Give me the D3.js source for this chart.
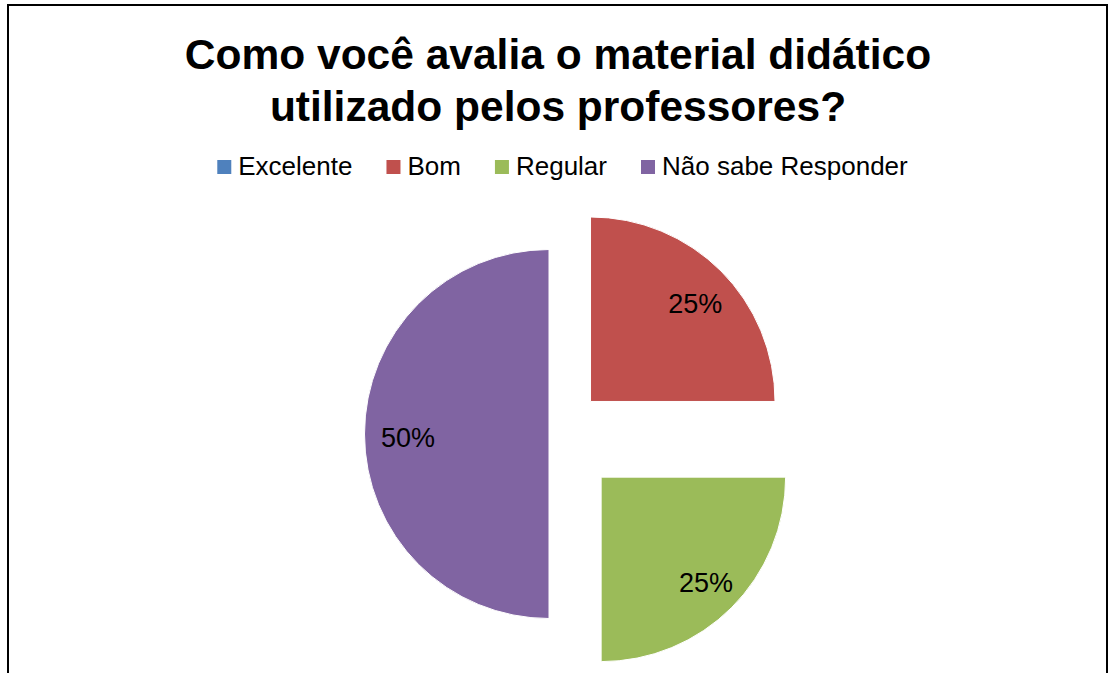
<!DOCTYPE html>
<html>
<head>
<meta charset="utf-8">
<script src="https://cdn.jsdelivr.net/npm/d3@7"></script>
<style>
  html, body { margin: 0; padding: 0; background: #fff; }
  svg { display: block; }
  text { font-family: "Liberation Sans", Arial, sans-serif; }
</style>
</head>
<body>
<svg id="chart" width="1109" height="673"></svg>
<script>
// ---- data ----
const titleLines = ["Como você avalia o material didático", "utilizado pelos professores?"];
const categories = ["Excelente", "Bom", "Regular", "Não sabe Responder"];
const values = [0, 25, 25, 50];
const colors = ["#4F81BD", "#C0504D", "#9BBB59", "#8064A2"];

// ---- layout ----
const W = 1109, H = 673;
const cx = 558, cy = 434, R = 184.5;
const explodePx = [0, 46, 61, 9];   // per-slice explosion distance
const labelRadiusFrac = 0.78;

const svg = d3.select("#chart");

// frame
svg.append("rect")
  .attr("x", 8).attr("y", 5)
  .attr("width", 1099).attr("height", 720)
  .attr("fill", "#fff")
  .attr("stroke", "#000").attr("stroke-width", 2);

// title
svg.append("g").selectAll("text")
  .data(titleLines)
  .join("text")
  .attr("x", 558)
  .attr("y", (d, i) => 69 + i * 52)
  .attr("text-anchor", "middle")
  .attr("font-size", 42.5)
  .attr("font-weight", "bold")
  .attr("fill", "#000")
  .text(d => d);

// legend
const legendFont = 26, sq = 14, gapSqText = 7, gapItems = 34;
const legend = svg.append("g");
const items = legend.selectAll("g").data(categories).join("g");
items.append("rect")
  .attr("width", sq).attr("height", sq)
  .attr("y", 160)
  .attr("fill", (d, i) => colors[i]);
items.append("text")
  .attr("y", 175)
  .attr("font-size", legendFont)
  .attr("fill", "#000")
  .text(d => d);
const widths = [];
items.select("text").each(function() { widths.push(this.getComputedTextLength()); });
const total = widths.reduce((a, w) => a + sq + gapSqText + w, 0) + gapItems * (categories.length - 1);
let x0 = 562.5 - total / 2;
items.each(function(d, i) {
  const g = d3.select(this);
  g.select("rect").attr("x", x0);
  g.select("text").attr("x", x0 + sq + gapSqText);
  x0 += sq + gapSqText + widths[i] + gapItems;
});

// pie
const pie = d3.pie().sort(null).value(d => d.v).startAngle(0).endAngle(2 * Math.PI);
const arcs = pie(categories.map((c, i) => ({ c, v: values[i], i })));
const arc = d3.arc().innerRadius(0).outerRadius(R);
const labelArc = d3.arc().innerRadius(R * labelRadiusFrac).outerRadius(R * labelRadiusFrac);
const sum = d3.sum(values);

const slices = svg.append("g")
  .attr("transform", `translate(${cx},${cy})`)
  .selectAll("g")
  .data(arcs.filter(d => d.data.v > 0))
  .join("g")
  .attr("transform", d => {
    const a = (d.startAngle + d.endAngle) / 2;
    const e = explodePx[d.data.i];
    return `translate(${e * Math.sin(a)},${-e * Math.cos(a)})`;
  });

slices.append("path")
  .attr("d", arc)
  .attr("fill", d => colors[d.data.i])
  .attr("stroke", "#fff")
  .attr("stroke-width", 1);

slices.append("text")
  .attr("transform", d => {
    const [x, y] = labelArc.centroid(d);
    return `translate(${x + 3},${y + 4})`;
  })
  .attr("text-anchor", "middle")
  .attr("dy", "0.35em")
  .attr("font-size", 27)
  .attr("fill", "#000")
  .text(d => Math.round(d.data.v / sum * 100) + "%");
</script>
</body>
</html>
